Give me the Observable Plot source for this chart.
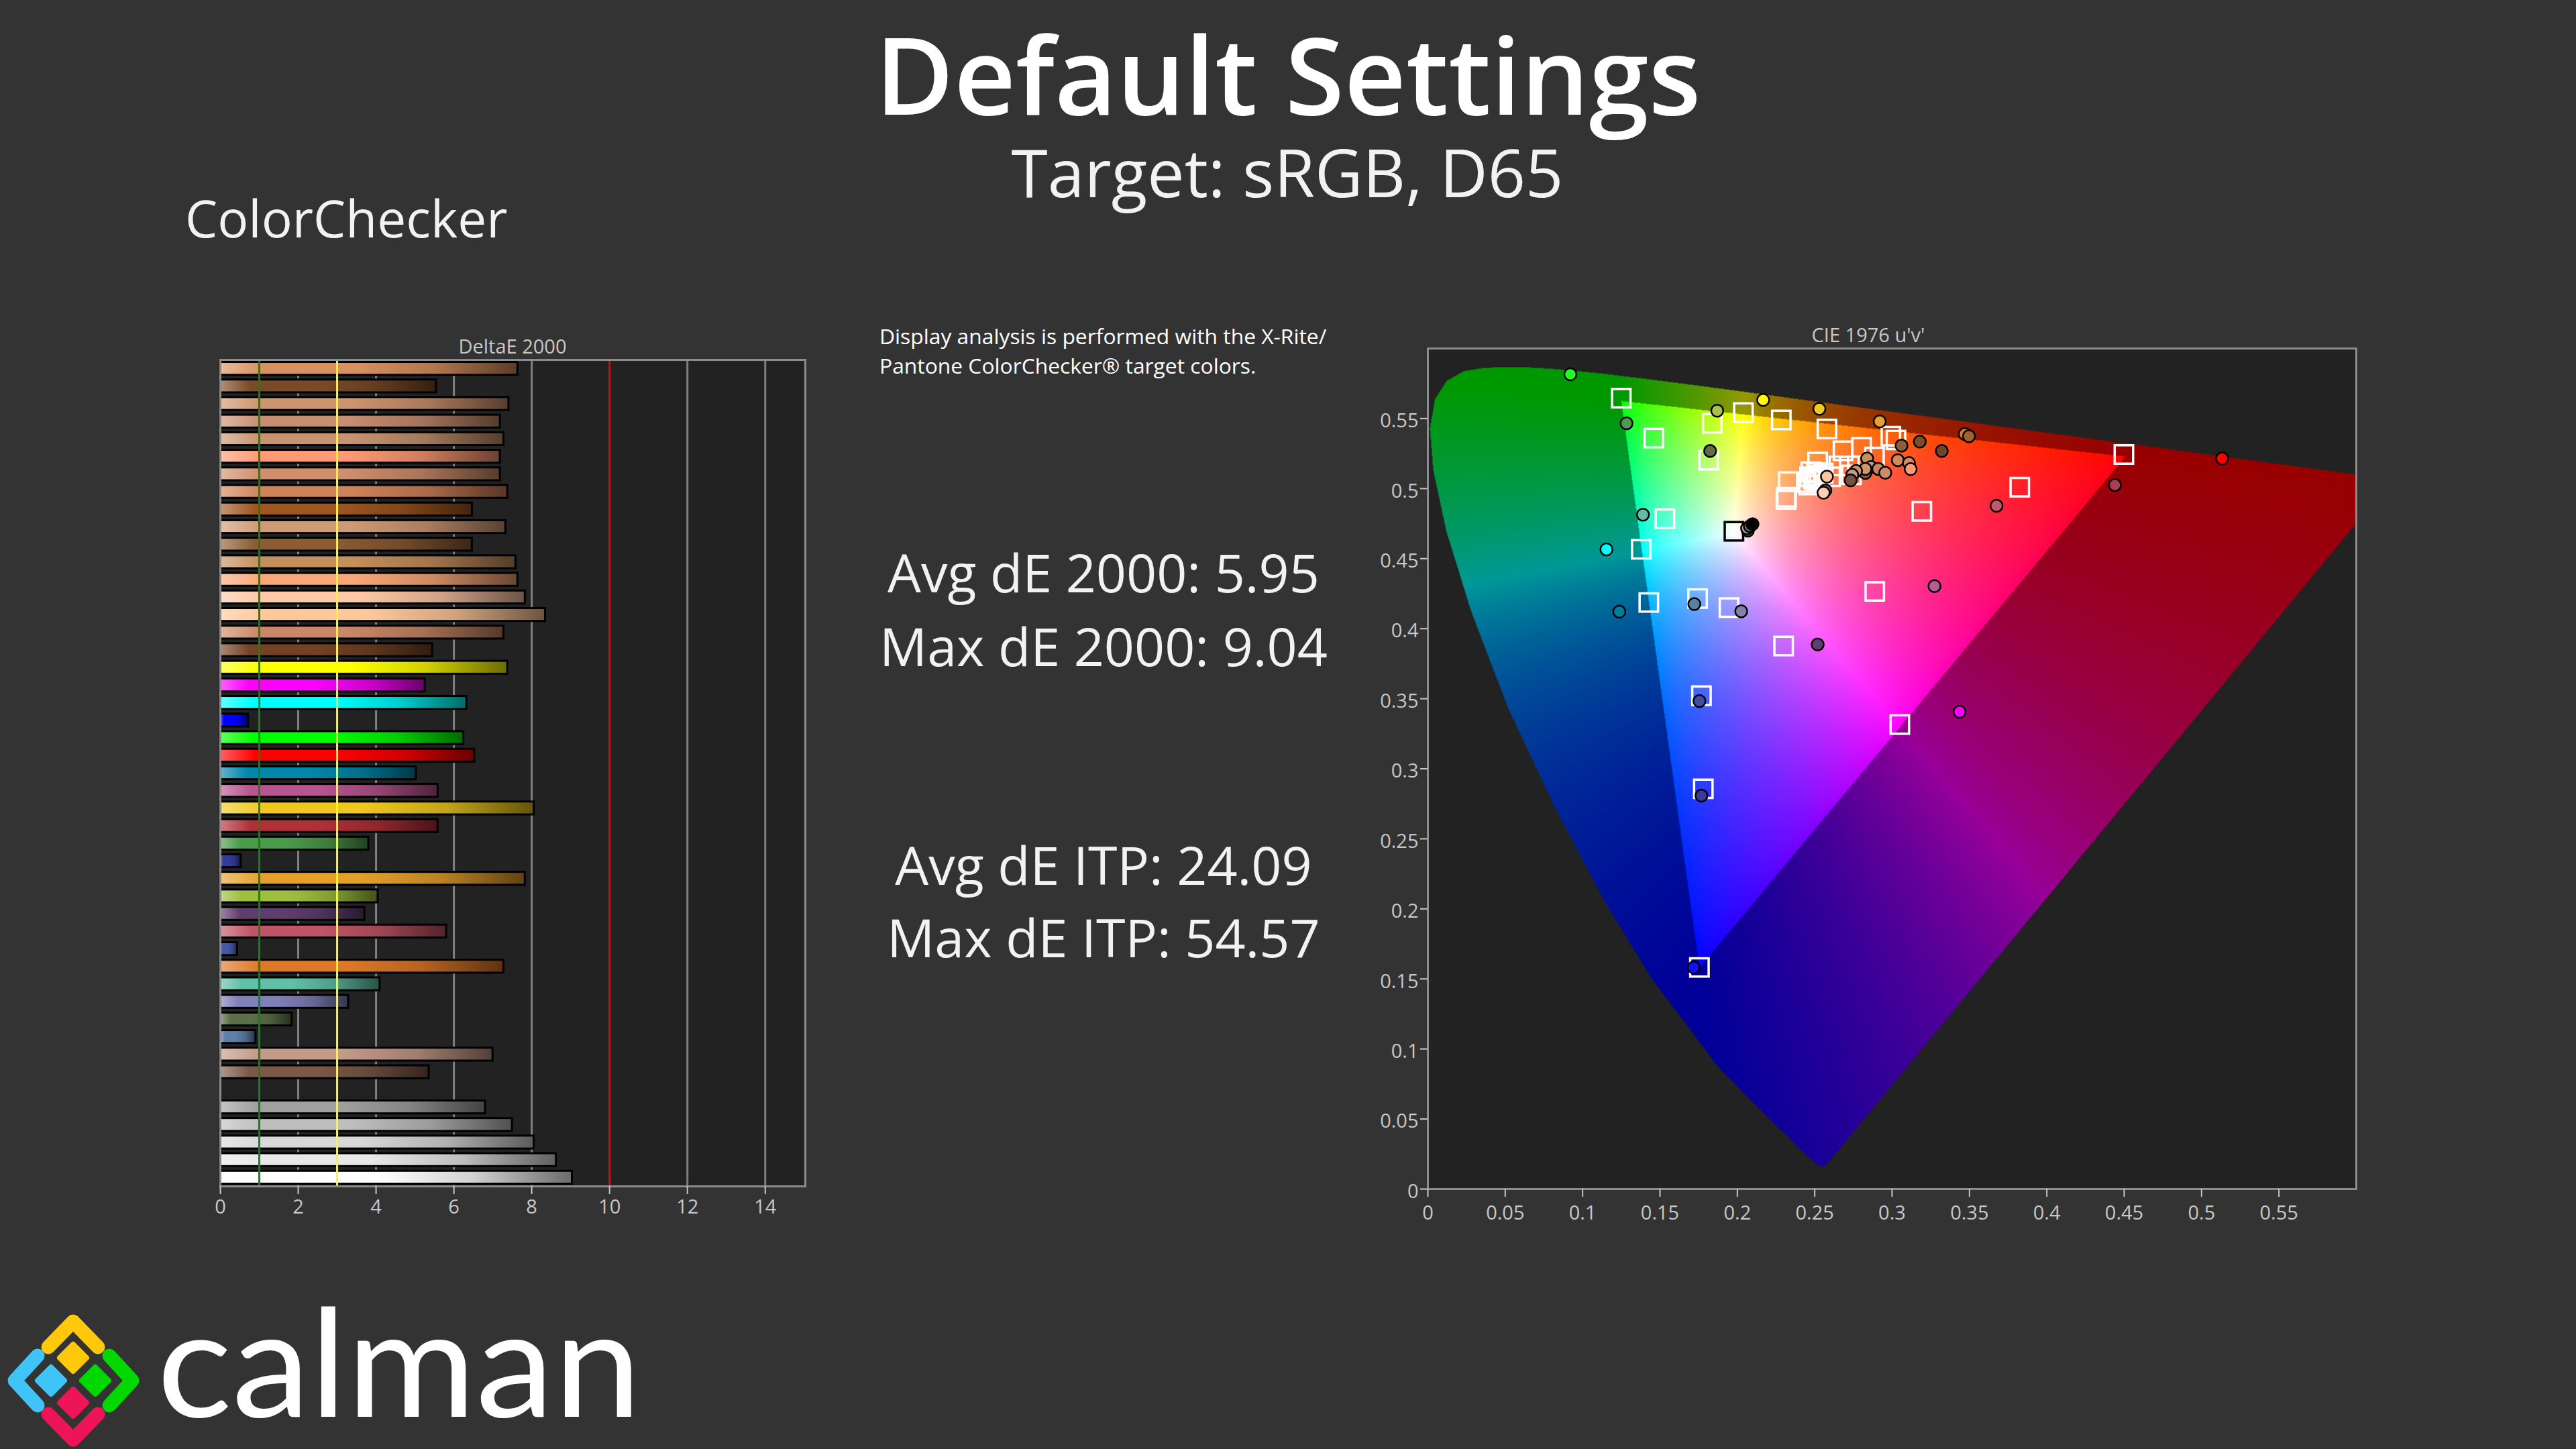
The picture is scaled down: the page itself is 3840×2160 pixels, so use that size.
<!DOCTYPE html>
<html><head><meta charset="utf-8">
<script src="https://cdn.jsdelivr.net/npm/d3@7"></script>
<script src="https://cdn.jsdelivr.net/npm/@observablehq/plot@0.6"></script>
<style>
html,body{margin:0;padding:0;background:#333333;width:3840px;height:2160px;overflow:hidden}
body{position:relative;font-family:"Open Sans",sans-serif;color:#fff}
.t{position:absolute;white-space:nowrap;line-height:1}
.c{transform:translateX(-50%)}
#bars,#cie{position:absolute}
</style></head><body>
<div class="t c" style="left:1920px;top:29px;font-size:160px;font-weight:600">Default Settings</div>
<div class="t c" style="left:1919px;top:207px;font-size:98.5px;color:#f2f2f2">Target: sRGB, D65</div>
<div class="t" style="left:276px;top:286px;font-size:76.6px;color:#f2f2f2">ColorChecker</div>
<div class="t" style="left:1311px;top:485px;font-size:31.8px;color:#fff">Display analysis is performed with the X-Rite/</div>
<div class="t" style="left:1311px;top:529px;font-size:31.8px;color:#fff">Pantone ColorChecker® target colors.</div>
<div class="t c" style="left:1645px;top:813px;font-size:79px;color:#f2f2f2">Avg dE 2000: 5.95</div>
<div class="t c" style="left:1645px;top:923px;font-size:79px;color:#f2f2f2">Max dE 2000: 9.04</div>
<div class="t c" style="left:1645px;top:1249px;font-size:79px;color:#f2f2f2">Avg dE ITP: 24.09</div>
<div class="t c" style="left:1645px;top:1357px;font-size:79px;color:#f2f2f2">Max dE ITP: 54.57</div>
<div class="t c" style="left:764px;top:501px;font-size:29px;color:#c8c8c8">DeltaE 2000</div>
<div class="t c" style="left:2785px;top:484px;font-size:29px;color:#c8c8c8">CIE 1976 u'v'</div>
<div id="bars"></div>
<div id="cie"></div>
<svg style="position:absolute;left:0;top:1800px" width="1000" height="360" viewBox="0 1800 1000 360">
  <g fill="none" stroke-width="21" stroke-linecap="round" stroke-linejoin="round">
    <path d="M72,2008L109,1970L146,2008" stroke="#ffc80a"/>
    <path d="M72,2108L109,2146L146,2108" stroke="#ee1458"/>
    <path d="M56,2021L22,2058L56,2095" stroke="#40c4f8"/>
    <path d="M163,2021L197,2058L163,2095" stroke="#00d800"/>
  </g>
  <g stroke-width="8" stroke-linejoin="round">
    <path d="M109,2004L129,2024L109,2044L89,2024Z" fill="#ffc80a" stroke="#ffc80a"/>
    <path d="M76,2038L96,2058L76,2078L56,2058Z" fill="#40c4f8" stroke="#40c4f8"/>
    <path d="M142,2038L162,2058L142,2078L122,2058Z" fill="#00d800" stroke="#00d800"/>
    <path d="M109,2071L129,2091L109,2111L89,2091Z" fill="#ee1458" stroke="#ee1458"/>
  </g>
  <text x="234" y="2112" font-family="Lato" font-size="224" fill="#fff" textLength="722" lengthAdjust="spacingAndGlyphs">calman</text>
</svg>
<script>
// ---------- DeltaE 2000 bars (top to bottom; null = empty row) ----------
const barValues = [7.64,5.55,7.41,7.19,7.28,7.19,7.19,7.38,6.47,7.33,6.47,7.59,7.64,7.83,8.35,7.28,5.45,
  7.38,5.26,6.33,0.72,
  6.25,6.53,5.03,5.59,8.06,5.59,3.81,0.53,7.83,4.05,3.71,5.81,0.44,7.28,4.10,3.29,1.84,0.91,7.0,5.36,
  null,6.81,7.50,8.06,8.63,9.04];
const barColors = ["#d9915f","#7a4b28","#cd9470","#c88e70","#c89470","#ff9a74","#cf8f6c","#d0835a","#a0561f","#cf9a76","#8c5c34","#c68e5c","#f8a878","#ffc8a6","#ffc89a","#c98866","#744224",
  "#ffff00","#ff00ff","#00ffff","#0000ff",
  "#00ff00","#ff0000","#0088aa","#b8558f","#efc81e","#b03038","#4c9a4c","#343c9a","#e5a02c","#9ebe40","#5f3d6c","#c05565","#4458a8","#dc7828","#60c0a8","#8080b8","#5c7048","#5f80a8","#c49a88","#7c5848",
  null,"#a0a0a0","#bebebe","#d8d8d8","#e8e8e8","#ffffff"];
const barTicks = [0,2,4,6,8,10,12,14];
const barGrid = [2,4,6,8,12,14];
const limitGreen = [1], limitYellow = [3], limitRed = [10];

// ---------- CIE 1976 u'v' ----------
const chartTicks = [0,0.05,0.1,0.15,0.2,0.25,0.3,0.35,0.4,0.45,0.5,0.55];
const locusU = [0.2568,0.2557,0.2522,0.2461,0.2347,0.2161,0.1877,0.1441,0.1147,0.0828,0.0521,0.0282,0.0119,0.0035,0.0014,0.0046,0.0123,0.0231,0.0360,0.0501,0.0643,0.0792,0.1127,0.1531,0.2026,0.2623,0.3315,0.4035,0.4692,0.5203,0.5565,0.5830,0.6005,0.6234];
const locusV = [0.0165,0.0159,0.0169,0.0226,0.0350,0.0549,0.0871,0.1510,0.2044,0.2708,0.3427,0.4117,0.4698,0.5131,0.5432,0.5638,0.5770,0.5837,0.5861,0.5868,0.5865,0.5856,0.5821,0.5766,0.5694,0.5604,0.5501,0.5393,0.5296,0.5219,0.5165,0.5125,0.5099,0.5065];
const targetU = [0.1250,0.1460,0.1838,0.2039,0.2284,0.2579,0.1814,0.2683,0.2803,0.2992,0.3025,0.2886,0.2519,0.2656,0.2724,0.2737,0.2602,0.2512,0.2467,0.2461,0.2329,0.2314,0.2318,0.1532,0.3192,0.3825,0.1379,0.4498,0.1428,0.1743,0.1946,0.2888,0.2299,0.1768,0.3050,0.1780,0.1755,0.2445,0.2490,0.2510,0.2475,0.2530,0.2555,0.2500,0.1978];
const targetV = [0.5646,0.5361,0.5466,0.5543,0.5490,0.5426,0.5203,0.5270,0.5295,0.5374,0.5347,0.5226,0.5190,0.5162,0.5162,0.5098,0.5084,0.5114,0.5084,0.5026,0.5050,0.4922,0.4938,0.4786,0.4838,0.5010,0.4567,0.5243,0.4187,0.4215,0.4150,0.4266,0.3876,0.3522,0.3316,0.2857,0.1582,0.5044,0.5070,0.5095,0.5120,0.5075,0.5110,0.5060,0.4695];
const targetStroke = targetU.map((_, i) => i === targetU.length - 1 ? "#000000" : "#ffffff");
const pointU = [0.2167,0.1870,0.1284,0.2530,0.2920,0.1824,0.3470,0.3497,0.3179,0.3061,0.3321,0.3037,0.3109,0.3120,0.2839,0.2863,0.2911,0.2956,0.2827,0.2827,0.2767,0.2742,0.2732,0.2579,0.2569,0.2557,0.3675,0.1390,0.0921,0.5133,0.4440,0.1154,0.1237,0.1722,0.2025,0.3274,0.2519,0.1755,0.3436,0.1768,0.1718,0.2068,0.2063,0.2081,0.2098];
const pointV = [0.5633,0.5556,0.5466,0.5569,0.5479,0.5268,0.5390,0.5374,0.5335,0.5307,0.5268,0.5203,0.5182,0.5139,0.5215,0.5154,0.5140,0.5113,0.5112,0.5140,0.5126,0.5098,0.5059,0.5085,0.4987,0.4970,0.4877,0.4814,0.5816,0.5215,0.5025,0.4566,0.4122,0.4176,0.4124,0.4304,0.3887,0.3484,0.3407,0.2808,0.1582,0.4700,0.4717,0.4731,0.4746];
const pointColors = ["#ffff00","#a7c04d","#4f9a50","#eecb20","#e6a02e","#5f6e44","#c87f30","#a2622f","#7a4e2a","#8e5f36","#6f4428","#d28a5d","#d38f63","#fb9b76","#c58f5e","#cc9a70","#c38863","#ce8d6a","#8b5b3f","#cf9570","#c99270","#c99c7a","#73503f","#ffc49d","#7a5b48","#ffcfb5","#c0596a","#68b8a6","#22ff22","#ff0000","#b03a4f","#00ffff","#007ea0","#5a7fa3","#8080a8","#b85a96","#5f3d70","#3f4fa0","#ff00ff","#3a3a9a","#1010ff","#555555","#a0a0a0","#666666","#000000"];

// ---------- bars ----------
const rows = barValues.map((v, i) => ({row: i, value: v, color: barColors[i]}));
const shown = rows.filter(d => d.value != null);
const barPlot = Plot.plot({
  width: 962, height: 1322, marginLeft: 60, marginRight: 30, marginTop: 20, marginBottom: 70,
  style: {background: "transparent", fontFamily: "Open Sans", fontSize: "29px", color: "#c8c8c8", overflow: "visible"},
  x: {domain: [0, 15.03], axis: null},
  y: {domain: rows.map(d => d.row), type: "band", padding: 0, round: false, axis: null},
  color: {type: "identity"},
  marks: [
    Plot.frame({fill: "#222222", stroke: "none"}),
    Plot.ruleX(barGrid, {stroke: "#808080", strokeWidth: 3}),
    Plot.barX(shown, {x1: 0, x2: "value", y: "row", fill: d => `url(#bar${d.row})`, stroke: "#000000", strokeWidth: 3, insetTop: 3.5, insetBottom: 3.5}),
    Plot.ruleX(limitGreen, {stroke: "#0a8a0a", strokeWidth: 3}),
    Plot.ruleX(limitYellow, {stroke: "#ffff00", strokeWidth: 3}),
    Plot.ruleX(limitRed, {stroke: "#f00000", strokeWidth: 3}),
    Plot.frame({stroke: "#8c8c8c", strokeWidth: 3}),
    Plot.axisX({ticks: barTicks, tickSize: 12, tickPadding: 8, tickFormat: d => String(d), anchor: "bottom", label: null, fontSize: 29, stroke: "#c8c8c8", strokeWidth: 2, fill: "#c8c8c8"})
  ]
});
const defs = d3.select(barPlot).insert("defs", ":first-child");
const shade = (base, k) => d3.rgb(base.r * k, base.g * k, base.b * k).formatHex();
for (const d of shown) {
  const base = d3.rgb(d.color);
  const light = d3.interpolateRgb(base, "#ffffff")(0.38);
  const g = defs.append("linearGradient").attr("id", `bar${d.row}`).attr("x1", 0).attr("x2", 1).attr("y1", 0).attr("y2", 0);
  [[0, light], [0.14, d.color], [0.45, d.color], [0.72, shade(base, 0.82)], [1, shade(base, 0.42)]].forEach(([o, c]) =>
    g.append("stop").attr("offset", o).attr("stop-color", c));
}
const barHost = document.getElementById("bars");
barHost.style.left = "268px"; barHost.style.top = "516px";
barHost.append(barPlot);

// ---------- CIE colour field ----------
const locus = locusU.map((u, i) => [u, locusV[i]]);
function chromaColor(u, v) {
  if (v <= 0 || !d3.polygonContains(locus, [u, v])) return null;
  const X = 9 * u / (4 * v), Y = 1, Z = (12 - 3 * u - 20 * v) / (4 * v);
  let r = 3.2406 * X - 1.5372 * Y - 0.4986 * Z;
  let g = -0.9689 * X + 1.8758 * Y + 0.0415 * Z;
  let b = 0.0557 * X - 0.2040 * Y + 1.0570 * Z;
  const outside = r < 0 || g < 0 || b < 0;
  r = Math.max(r, 0); g = Math.max(g, 0); b = Math.max(b, 0);
  const m = Math.max(r, g, b) || 1;
  const k = outside ? 152 : 255, e = outside ? 1 : 0.75;
  const f = c => Math.round(k * Math.pow(c / m, e));
  return `rgb(${f(r)},${f(g)},${f(b)})`;
}
const targets = targetU.map((u, i) => ({u, v: targetV[i], s: targetStroke[i]}));
const points = pointU.map((u, i) => ({u, v: pointV[i], c: pointColors[i]}));
const ciePlot = Plot.plot({
  width: 1504, height: 1343, marginLeft: 100, marginRight: 20, marginTop: 20, marginBottom: 70,
  style: {background: "transparent", fontFamily: "Open Sans", fontSize: "29px", color: "#c8c8c8", overflow: "visible"},
  x: {domain: [0, 0.6], axis: null},
  y: {domain: [0, 0.6], axis: null},
  color: {type: "identity"},
  marks: [
    Plot.frame({fill: "#222222", stroke: "none"}),
    Plot.raster({fill: chromaColor, x1: 0, x2: 0.6, y1: 0, y2: 0.6, pixelSize: 1}),
    Plot.dot(targets, {x: "u", y: "v", symbol: "square", r: 15.5, fill: "none", stroke: "s", strokeWidth: 3.5}),
    Plot.dot(points, {x: "u", y: "v", r: 9, fill: "c", stroke: "#000000", strokeWidth: 2.5}),
    Plot.frame({stroke: "#8c8c8c", strokeWidth: 3}),
    Plot.axisX({ticks: chartTicks, tickSize: 12, tickPadding: 13, tickFormat: d => String(d), anchor: "bottom", label: null, fontSize: 29, stroke: "#c8c8c8", strokeWidth: 2, fill: "#c8c8c8"}),
    Plot.axisY({ticks: chartTicks, tickSize: 11, tickPadding: 2, tickFormat: () => "", anchor: "left", label: null, stroke: "#c8c8c8", strokeWidth: 2}),
    Plot.text(chartTicks, {y: d => d, text: d => String(d), frameAnchor: "left", dx: -14, dy: 4, textAnchor: "end", fontSize: 29, fill: "#c8c8c8"})
  ]
});
const cieHost = document.getElementById("cie");
cieHost.style.left = "2028px"; cieHost.style.top = "499px";
cieHost.append(ciePlot);
</script>
</body></html>
